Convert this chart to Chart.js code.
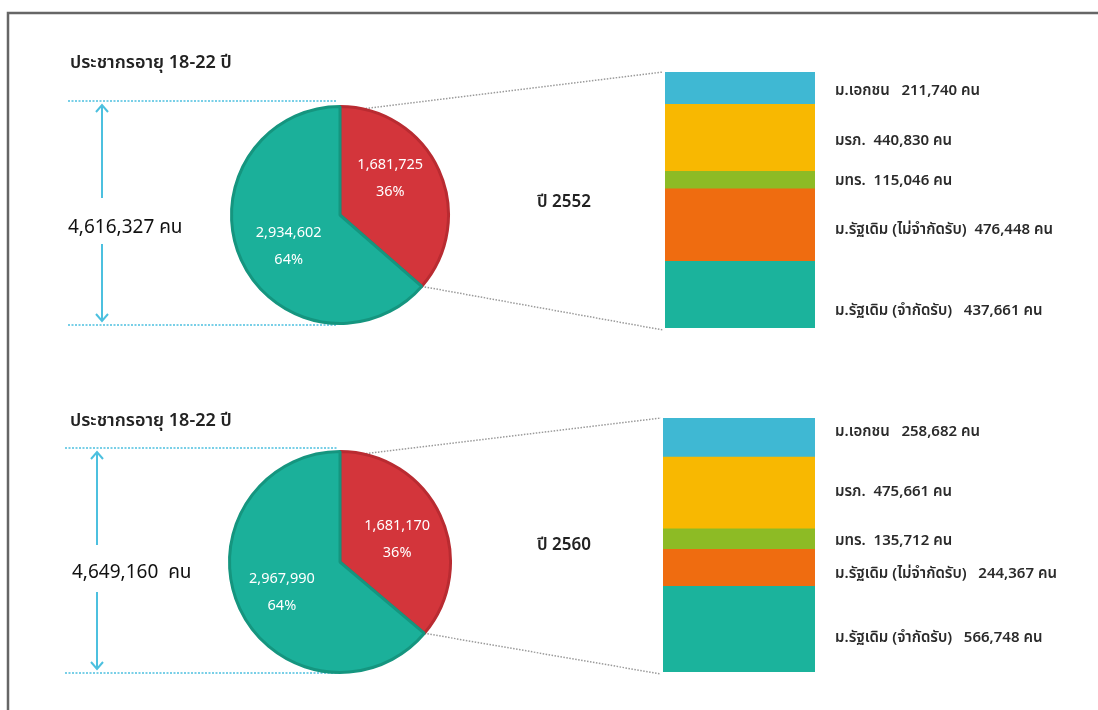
<!DOCTYPE html>
<html lang="th">
<head>
<meta charset="utf-8">
<script src="https://cdn.jsdelivr.net/npm/chart.js@4.4.1/dist/chart.umd.min.js"></script>
<style>
  html, body { margin: 0; padding: 0; background: #fff; }
  body { width: 1098px; height: 710px; position: relative; overflow: hidden;
         font-family: Tahoma, "Noto Sans Thai", "Noto Sans Thai UI", Loma, Garuda, "Noto Sans", sans-serif; color: #222; }
  .abs { position: absolute; white-space: pre; line-height: 1; }
  .title { font-size: 18px; font-weight: 600; color: #222; }
  .total { font-size: 19px; color: #111; }
  .year { font-size: 17px; font-weight: 600; color: #222; }
  canvas { position: absolute; }
</style>
</head>
<body>
<canvas id="deco" width="1098" height="710" style="left:0;top:0"></canvas>
<canvas id="pie1" width="224" height="224" style="left:228px;top:103px"></canvas>
<canvas id="bar1" width="433" height="256" style="left:665px;top:72px"></canvas>
<canvas id="pie2" width="228" height="228" style="left:226px;top:448px"></canvas>
<canvas id="bar2" width="435" height="254" style="left:663px;top:418px"></canvas>

<div class="abs title" style="left:70px;top:54px">ประชากรอายุ 18-22 ปี</div>
<div class="abs title" style="left:70px;top:412px">ประชากรอายุ 18-22 ปี</div>
<div class="abs total" id="tot1" style="left:68px;top:218px"></div>
<div class="abs total" id="tot2" style="left:72px;top:563px"></div>
<div class="abs year" id="yr1" style="left:537px;top:194px"></div>
<div class="abs year" id="yr2" style="left:537px;top:537px"></div>

<script>
// ---------- data ----------
const years = ['ปี 2552', 'ปี 2560'];
const pieCategories = ['ศึกษาในมหาวิทยาลัย', 'อื่น ๆ'];
const pie2552 = [1681725, 2934602];
const pie2560 = [1681170, 2967990];
const uniCategories = ['ม.รัฐเดิม (จำกัดรับ)', 'ม.รัฐเดิม (ไม่จำกัดรับ)', 'มทร.', 'มรภ.', 'ม.เอกชน'];
const uni2552 = [437661, 476448, 115046, 440830, 211740];
const uni2560 = [566748, 244367, 135712, 475661, 258682];
const unit = 'คน';

// ---------- styles ----------
const pieColors = ['#d3353b', '#1bb09a'];
const pieBorders = ['#b92b31', '#15957f'];
const uniColors = ['#1bb39c', '#ef6c10', '#8dbb25', '#f8b801', '#3fb8d3'];
const fontFam = 'Tahoma, "Noto Sans Thai", "Noto Sans Thai UI", Loma, Garuda, "Noto Sans", sans-serif';
const fmt = v => v.toLocaleString('en-US');

Chart.defaults.animation = false;
Chart.defaults.font.family = fontFam;

const pieLabelPlugin = {
  id: 'pieLabels',
  afterDatasetsDraw(chart, args, opts) {
    const ctx = chart.ctx;
    const meta = chart.getDatasetMeta(0);
    const data = chart.data.datasets[0].data;
    const total = data.reduce((a, b) => a + b, 0);
    meta.data.forEach((arc, i) => {
      const p = arc.getProps(['x', 'y', 'startAngle', 'endAngle', 'outerRadius'], true);
      const mid = (p.startAngle + p.endAngle) / 2;
      const f = opts.factor[i];
      const nx = opts.nudge[i][0], ny = opts.nudge[i][1];
      const cx = p.x + Math.cos(mid) * p.outerRadius * f + nx;
      const cy = p.y + Math.sin(mid) * p.outerRadius * f + ny;
      ctx.save();
      ctx.fillStyle = '#ffffff';
      ctx.font = '14.5px ' + fontFam;
      ctx.textAlign = 'center';
      ctx.textBaseline = 'middle';
      ctx.fillText(fmt(data[i]), cx, cy - 13);
      ctx.fillText(Math.round(data[i] / total * 100) + '%', cx, cy + 14);
      ctx.restore();
    });
  }
};

function makePie(id, values, nudge) {
  return new Chart(document.getElementById(id), {
    type: 'pie',
    data: { labels: pieCategories, datasets: [{ data: values, backgroundColor: pieColors,
      borderColor: pieBorders, borderWidth: 3, hoverOffset: 0 }] },
    options: {
      responsive: false, animation: false,
      layout: { padding: 2 },
      plugins: { legend: { display: false }, tooltip: { enabled: false },
        pieLabels: { factor: [0.62, 0.55], nudge: nudge } }
    },
    plugins: [pieLabelPlugin]
  });
}

const barLabelPlugin = {
  id: 'barLabels',
  afterDatasetsDraw(chart, args, opts) {
    const ctx = chart.ctx;
    ctx.save();
    ctx.fillStyle = '#2a2a2a';
    ctx.font = '600 15px ' + fontFam;
    ctx.textAlign = 'left';
    ctx.textBaseline = 'middle';
    chart.data.datasets.forEach((ds, i) => {
      const el = chart.getDatasetMeta(i).data[0];
      const p = el.getProps(['y', 'base'], true);
      const cy = (p.y + p.base) / 2 + opts.nudge[i];
      ctx.fillText(ds.label + opts.gap[i] + fmt(ds.data[0]) + ' ' + unit, chart.chartArea.right + 20, cy);
    });
    ctx.restore();
  }
};

function makeBar(id, values, nudge, gap) {
  const total = values.reduce((a, b) => a + b, 0);
  return new Chart(document.getElementById(id), {
    type: 'bar',
    data: {
      labels: [''],
      datasets: uniCategories.map((c, i) => ({
        label: c, data: [values[i]], backgroundColor: uniColors[i], borderWidth: 0,
        barPercentage: 1, categoryPercentage: 1
      }))
    },
    options: {
      responsive: false, animation: false,
      layout: { padding: { left: 0, top: 0, bottom: 0, right: 283 } },
      scales: {
        x: { stacked: true, display: false },
        y: { stacked: true, display: false, min: 0, max: total }
      },
      plugins: { legend: { display: false }, tooltip: { enabled: false },
        barLabels: { nudge: nudge, gap: gap } }
    },
    plugins: [barLabelPlugin]
  });
}

const pie1 = makePie('pie1', pie2552, [[-11, -8], [3, 7]]);
const bar1 = makeBar('bar1', uni2552, [17, 6, 2, 4, 4], ['   ', '  ', '  ', '  ', '   ']);
const pie2 = makePie('pie2', pie2560, [[-5, 7], [-3, 5]]);
const bar2 = makeBar('bar2', uni2560, [10, 7, 3, 0, -5], ['   ', '   ', '  ', '  ', '   ']);

document.getElementById('yr1').textContent = years[0];
document.getElementById('yr2').textContent = years[1];
document.getElementById('tot1').textContent = fmt(pie2552[0] + pie2552[1]) + ' ' + unit;
document.getElementById('tot2').textContent = fmt(pie2560[0] + pie2560[1]) + '  ' + unit;

// ---------- decorations (frame, dimension arrows, connectors) ----------
const dc = document.getElementById('deco').getContext('2d');
dc.strokeStyle = '#666';
dc.lineWidth = 2.5;
dc.beginPath(); dc.moveTo(8, 710); dc.lineTo(8, 13); dc.lineTo(1098, 13); dc.stroke();

function pieGeom(chart, canvasId) {
  const cv = document.getElementById(canvasId);
  const ox = cv.offsetLeft, oy = cv.offsetTop;
  const arc = chart.getDatasetMeta(0).data[0].getProps(['x', 'y', 'endAngle', 'outerRadius'], true);
  return { x: ox + arc.x, y: oy + arc.y, r: arc.outerRadius, end: arc.endAngle };
}
function barGeom(chart, canvasId) {
  const cv = document.getElementById(canvasId);
  const a = chart.chartArea;
  return { left: cv.offsetLeft + a.left, top: cv.offsetTop + a.top, bottom: cv.offsetTop + a.bottom };
}

function section(pieChart, pieId, barChart, barId, lineTop, lineBot, lineL, arrowX, gapTop, gapBot) {
  const pg = pieGeom(pieChart, pieId);
  const bg = barGeom(barChart, barId);
  dc.save();
  dc.strokeStyle = '#4cc0df';
  dc.lineWidth = 1.5;
  dc.setLineDash([2, 1.5]);
  [lineTop, lineBot].forEach(y => { dc.beginPath(); dc.moveTo(lineL, y); dc.lineTo(pg.x - 3, y); dc.stroke(); });
  dc.restore();
  dc.save();
  dc.strokeStyle = '#4cc0df';
  dc.lineWidth = 2;
  dc.beginPath();
  dc.moveTo(arrowX, lineTop + 4); dc.lineTo(arrowX, gapTop);
  dc.moveTo(arrowX, gapBot); dc.lineTo(arrowX, lineBot - 4);
  dc.moveTo(arrowX - 6, lineTop + 11); dc.lineTo(arrowX, lineTop + 4); dc.lineTo(arrowX + 6, lineTop + 11);
  dc.moveTo(arrowX - 6, lineBot - 11); dc.lineTo(arrowX, lineBot - 4); dc.lineTo(arrowX + 6, lineBot - 11);
  dc.stroke();
  dc.restore();
  dc.save();
  dc.strokeStyle = '#9a9a9a';
  dc.lineWidth = 1.5;
  dc.setLineDash([1.5, 1.5]);
  const a0 = -Math.PI / 2 + 0.21;
  dc.beginPath();
  dc.moveTo(pg.x + Math.cos(a0) * pg.r, pg.y + Math.sin(a0) * pg.r);
  dc.lineTo(bg.left - 2, bg.top);
  dc.moveTo(pg.x + Math.cos(pg.end) * pg.r, pg.y + Math.sin(pg.end) * pg.r);
  dc.lineTo(bg.left - 2, bg.bottom + 2);
  dc.stroke();
  dc.restore();
}
section(pie1, 'pie1', bar1, 'bar1', 101, 325, 68, 102, 198, 244);
section(pie2, 'pie2', bar2, 'bar2', 448, 673, 65, 97, 545, 592);
</script>
</body>
</html>
